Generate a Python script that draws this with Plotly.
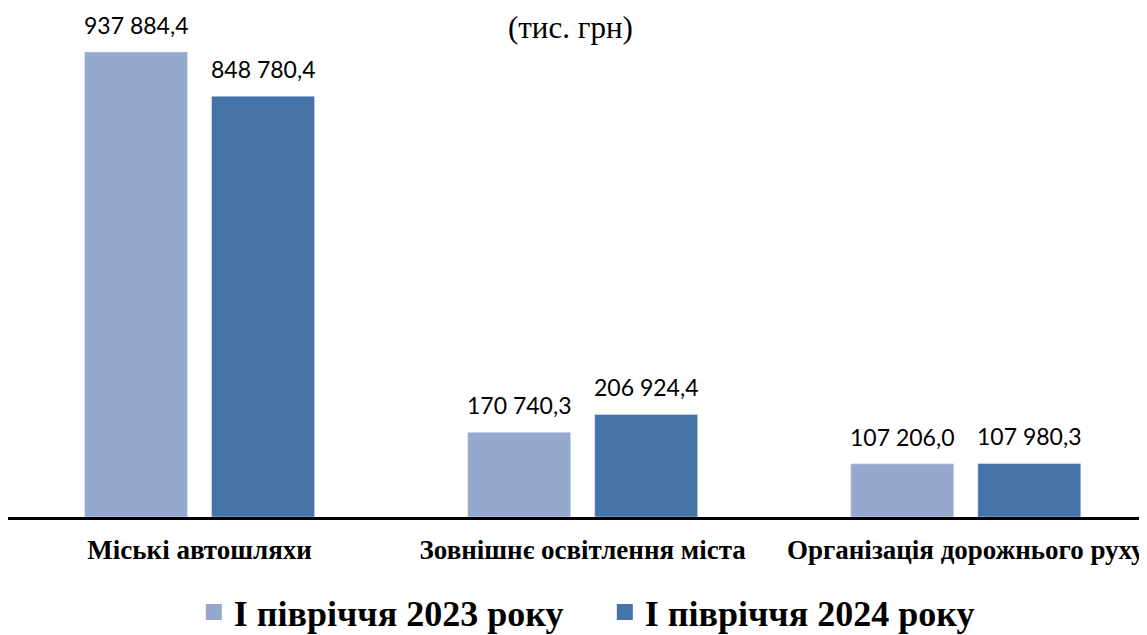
import plotly.graph_objects as go

CATEGORIES = ["Міські автошляхи", "Зовнішнє освітлення міста", "Організація дорожнього руху"]
SERIES_NAMES = ["І півріччя 2023 року", "І півріччя 2024 року"]
VALUES_2023 = [937884.4, 170740.3, 107206.0]
VALUES_2024 = [848780.4, 206924.4, 107980.3]
COLORS = ["#95A9CF", "#4673A7"]

SERIF = "Liberation Serif, Times New Roman, serif"
LABEL_FONT = "Lato, Carlito, Calibri, sans-serif"


def fmt(v: float) -> str:
    return f"{v:,.1f}".replace(",", " ").replace(".", ",")


fig = go.Figure()
series = [VALUES_2023, VALUES_2024]
for name, vals, color in zip(SERIES_NAMES, series, COLORS):
    fig.add_trace(
        go.Bar(
            x=CATEGORIES,
            y=vals,
            marker_color=color,
            showlegend=False,
            hoverinfo="skip",
        )
    )
    # legend-only square marker (bar legend squares are too small)
    fig.add_trace(
        go.Scatter(
            x=[None],
            y=[None],
            mode="markers",
            name=name,
            marker={"symbol": "square", "size": 20, "color": color},
        )
    )

# value labels above the bars
offsets = [-63.5, 63.5]
for vals, dx in zip(series, offsets):
    for cat, v in zip(CATEGORIES, vals):
        fig.add_annotation(
            x=cat,
            y=v,
            text=fmt(v),
            showarrow=False,
            xshift=dx,
            yanchor="bottom",
            yshift=11,
            font={"family": LABEL_FONT, "size": 23, "color": "#000000"},
        )

fig.add_annotation(
    x=0.494,
    y=1,
    xref="paper",
    yref="paper",
    yanchor="top",
    text="(тис. грн)",
    showarrow=False,
    font={"family": SERIF, "size": 31, "color": "#000000"},
)

fig.update_layout(
    width=1139,
    height=627,
    margin={"l": 0, "r": 0, "t": 0, "b": 118, "autoexpand": False},
    paper_bgcolor="white",
    plot_bgcolor="white",
    barmode="group",
    bargap=0.337,
    bargroupgap=0.189,
    xaxis={
        "range": [-0.5, 2.473],
        "showline": True,
        "linecolor": "black",
        "linewidth": 3,
        "ticks": "",
        "ticklabelstandoff": 7,
        "tickfont": {"family": SERIF, "size": 27, "color": "#000000", "weight": "bold"},
        "automargin": False,
        "fixedrange": True,
    },
    yaxis={
        "range": [0, 1026600],
        "visible": False,
        "showgrid": False,
        "zeroline": False,
        "fixedrange": True,
    },
    legend={
        "orientation": "h",
        "x": 0.524,
        "xanchor": "center",
        "y": -0.187,
        "yanchor": "middle",
        "font": {"family": SERIF, "size": 36, "color": "#000000", "weight": "bold"},
        "itemwidth": 30,
        "entrywidth": 366,
    },
)

fig.write_html("out.html")
